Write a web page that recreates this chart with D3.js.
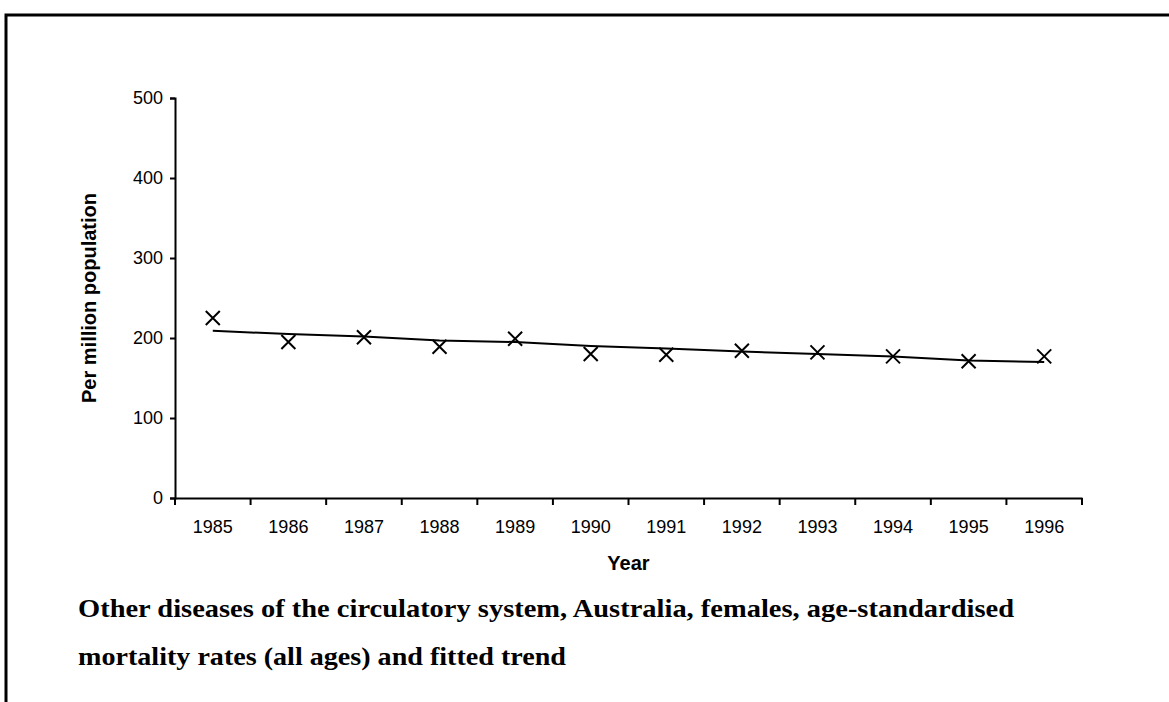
<!DOCTYPE html>
<html>
<head>
<meta charset="utf-8">
<script src="https://cdn.jsdelivr.net/npm/d3@7"></script>
<style>
  body { margin: 0; background: #fff; }
  svg { display: block; }
</style>
</head>
<body>
<svg id="chart"></svg>
<script>
// data
const years = ["1985", "1986", "1987", "1988", "1989", "1990", "1991", "1992", "1993", "1994", "1995", "1996"];
const rates = [225, 195, 201, 189, 199, 180, 179, 184, 182, 177, 171, 177];
const trend = [209, 205, 202, 197, 195, 190, 187, 183, 180, 177, 172, 170];
const yTicks = [0, 100, 200, 300, 400, 500];
const titleLines = [
    "Other diseases of the circulatory system, Australia, females, age-standardised",
    "mortality rates (all ages) and fitted trend"
];

let width = 1169,
    height = 702;

const svg = d3.select("#chart")
    .attr("width", width)
    .attr("height", height);

// frame lines (top and left)
svg.append("path")
    .attr("d", `M6,${height} V15 H${width}`)
    .attr("fill", "none")
    .attr("stroke", "black")
    .attr("stroke-width", 3);

const plotLeft = 175, plotRight = 1082, plotTop = 98, plotBottom = 498;

const x = d3.scaleBand()
    .domain(years)
    .range([plotLeft, plotRight]);

const y = d3.scaleLinear()
    .domain([0, 500])
    .range([plotBottom, plotTop]);

// y axis
const yAxis = svg.append("g")
    .attr("transform", `translate(${plotLeft} 0)`)
    .call(d3.axisLeft(y).tickValues(yTicks).tickSize(5).tickPadding(7));
yAxis.select(".domain").attr("stroke-width", 2);
yAxis.selectAll(".tick line").attr("stroke-width", 2);
yAxis.selectAll("text")
    .attr("font-family", "Liberation Sans, Arial, sans-serif")
    .attr("font-size", 18)
    .attr("fill", "black");

// x axis, ticks sit on the band boundaries
const xAxis = svg.append("g")
    .attr("transform", `translate(0 ${plotBottom})`)
    .call(d3.axisBottom(x).tickSize(0).tickPadding(22));
xAxis.select(".domain").attr("stroke-width", 2);
xAxis.selectAll("text")
    .attr("font-family", "Liberation Sans, Arial, sans-serif")
    .attr("font-size", 18)
    .attr("fill", "black");

const boundaries = years.map(d => x(d)).concat([plotRight]);
xAxis.append("g").selectAll("line")
    .data(boundaries)
    .enter()
    .append("line")
    .attr("x1", d => d)
    .attr("x2", d => d)
    .attr("y1", 0)
    .attr("y2", 7)
    .attr("stroke", "black")
    .attr("stroke-width", 2);

// axis titles
svg.append("text")
    .attr("transform", `translate(96 ${(plotTop + plotBottom) / 2}) rotate(-90)`)
    .attr("text-anchor", "middle")
    .attr("font-family", "Liberation Sans, Arial, sans-serif")
    .attr("font-weight", "bold")
    .attr("font-size", 20)
    .text("Per million population");

svg.append("text")
    .attr("x", (plotLeft + plotRight) / 2)
    .attr("y", 570)
    .attr("text-anchor", "middle")
    .attr("font-family", "Liberation Sans, Arial, sans-serif")
    .attr("font-weight", "bold")
    .attr("font-size", 20)
    .text("Year");

// fitted trend
const line = d3.line()
    .x((d, i) => x(years[i]) + x.bandwidth() / 2)
    .y(d => y(d));

svg.append("path")
    .datum(trend)
    .attr("d", line)
    .attr("fill", "none")
    .attr("stroke", "black")
    .attr("stroke-width", 2);

// observed rates as crosses
const s = 7;
svg.append("g").selectAll("path")
    .data(rates)
    .enter()
    .append("path")
    .attr("transform", (d, i) => `translate(${x(years[i]) + x.bandwidth() / 2} ${y(d)})`)
    .attr("d", `M${-s},${-s}L${s},${s}M${-s},${s}L${s},${-s}`)
    .attr("stroke", "black")
    .attr("stroke-width", 2)
    .attr("fill", "none");

// caption
const titleWidths = [936, 488];
svg.append("g").selectAll("text")
    .data(titleLines)
    .enter()
    .append("text")
    .attr("x", 78)
    .attr("y", (d, i) => 617 + i * 48)
    .attr("font-family", "Liberation Serif, Times New Roman, serif")
    .attr("font-weight", "bold")
    .attr("font-size", 25)
    .attr("textLength", (d, i) => titleWidths[i])
    .attr("lengthAdjust", "spacingAndGlyphs")
    .text(d => d);
</script>
</body>
</html>
